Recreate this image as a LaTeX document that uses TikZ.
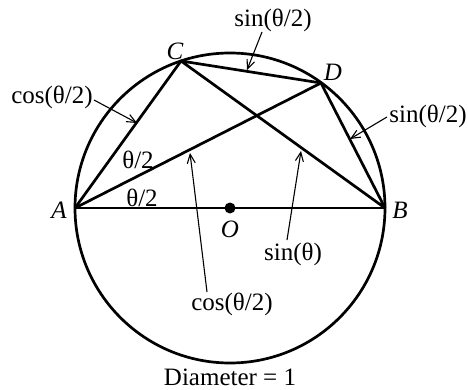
\documentclass[tikz,border=0pt]{standalone}
\usepackage{fontspec}
\setmainfont{Liberation Serif}
\usetikzlibrary{arrows.meta}
\begin{document}
\begin{tikzpicture}[x=1pt,y=-1pt,
  geo/.style={line width=2.7pt, line join=round},
  lbl/.style={inner sep=0pt, font=\fontsize{25}{29}\selectfont},
  ptl/.style={inner sep=0pt, font=\fontsize{25}{29}\selectfont\itshape},
  ptr/.style={line width=1.1pt, -{Straight Barb[length=9pt,width=8pt,line width=1.1pt]}},
  ln/.style={line width=1.1pt}]
\useasboundingbox (0,0) rectangle (468,390);
\coordinate (O) at (230,208);
\coordinate (A) at (75,208);
\coordinate (B) at (385,208);
\coordinate (C) at (181,61);
\coordinate (D) at (321,83);
\draw[geo] (O) circle[radius=155];
\draw[geo] (A) -- (B);
\draw[geo] (A) -- (C) -- (D) -- (B) -- (C);
\draw[geo] (A) -- (D);
\fill (O) circle[radius=5.5];
% point labels
\node[ptl] (lA) at (59,210) {A};
\node[ptl] (lB) at (400,210) {B};
\node[ptl] (lC) at (175,51) {C};
\node[ptl] (lD) at (333,72) {D};
\node[ptl] (lO) at (230,229) {O};
% angle labels
\node[lbl] (t1) at (138,160) {θ/2};
\node[lbl] (t2) at (142,198) {θ/2};
% edge labels
\node[lbl] (c1) at (52,97) {cos(θ/2)};
\coordinate (c1s) at (94,100);
\coordinate (c1t) at (137,123);
\draw[ptr] (c1s) -- (c1t);
\node[lbl] (s1) at (273,20) {sin(θ/2)};
\coordinate (s1s) at (262,32);
\coordinate (s1t) at (247,70);
\draw[ptr] (s1s) -- (s1t);
\node[lbl] (s2) at (428,116) {sin(θ/2)};
\coordinate (s2s) at (387,117);
\coordinate (s2t) at (350,139);
\draw[ptr] (s2s) -- (s2t);
\node[lbl] (s3) at (293,254) {sin(θ)};
\coordinate (s3s) at (287,240);
\coordinate (s3t) at (301,151);
\draw[ptr] (s3s) -- (s3t);
\node[lbl] (c2) at (232,304) {cos(θ/2)};
\coordinate (c2s) at (207,292);
\coordinate (c2t) at (190,153);
\draw[ptr] (c2s) -- (c2t);
\node[lbl] (dia) at (230,377) {Diameter = 1};
\end{tikzpicture}
\end{document}
